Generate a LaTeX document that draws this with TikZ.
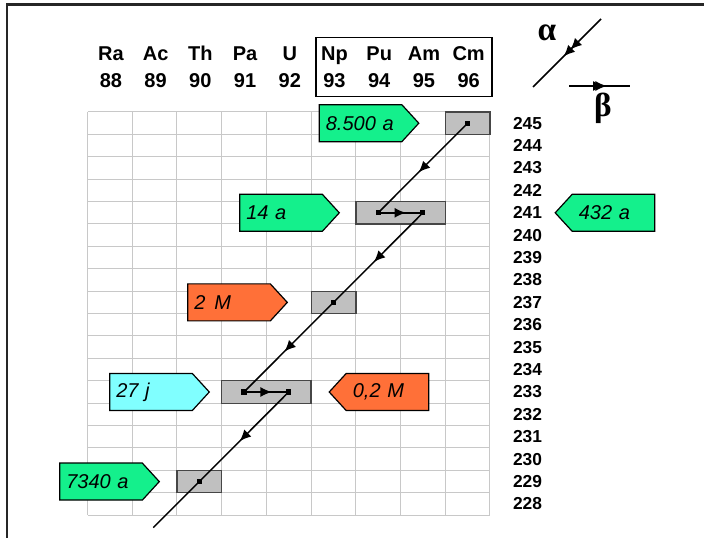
\documentclass[tikz,border=0pt]{standalone}
\usepackage{fontspec}
\setmainfont{Liberation Sans}
\newfontfamily\greekfont{Liberation Serif}
\usetikzlibrary{positioning,arrows.meta,shapes.symbols,decorations.markings}
\definecolor{gridGray}{RGB}{200,200,200}
\definecolor{boxGray}{RGB}{192,192,192}
\definecolor{boxBorder}{RGB}{70,70,70}
\definecolor{tagGreen}{RGB}{20,240,140}
\definecolor{tagOrange}{RGB}{255,112,56}
\definecolor{tagCyan}{RGB}{128,255,255}
\tikzset{
  gridline/.style={draw=gridGray, line width=0.75pt},
  elem/.style={font=\fontsize{15}{17}\selectfont\bfseries, inner sep=0pt, anchor=base},
  massno/.style={font=\fontsize{13}{14}\selectfont\bfseries, inner sep=0pt},
  nucbox/.style={draw=boxBorder, fill=boxGray, line width=1pt,
    minimum height=16.8pt, minimum width=33.5pt, inner sep=0pt},
  nuc/.style={fill=black, inner sep=0pt, minimum size=3.8pt},
  chain/.style={line width=1.1pt},
  alpha decay/.style={chain, postaction={decorate}, decoration={markings,
    mark=at position 0.55 with {\arrow{Latex[length=8.5pt,width=7.5pt]}}}},
  beta decay/.style={chain, postaction={decorate}, decoration={markings,
    mark=at position 0.62 with {\arrow{Latex[length=8.5pt,width=7.5pt]}}}},
  tagbase/.style={shape=signal, signal pointer angle=95, draw, line width=0.9pt,
    minimum height=27.75pt, text width=52pt, align=left, inner xsep=5pt,
    font=\fontsize{15}{17}\selectfont\itshape},
  tagE/.style={tagbase, signal to=east},
  tagW/.style={tagbase, signal to=west},
  greek/.style={font=\greekfont\fontsize{25}{27}\selectfont\bfseries, inner sep=0pt}
}
\begin{document}
\begin{tikzpicture}[x=0.75pt, y=-0.75pt]
  \useasboundingbox (0,0) rectangle (704,538);
  % frame
  \draw[line width=1.6pt, draw=black!85] (7,538) -- (7,4.5) -- (704,4.5);

  % chart grid
  \foreach \i in {0,...,9}
    \draw[gridline] ({87.5+\i*44.72},112) -- ({87.5+\i*44.72},515.2);
  \foreach \j in {0,...,18}
    \draw[gridline] (87.5,{112+\j*22.4}) -- (490,{112+\j*22.4});

  % element header
  \foreach \sym/\z [count=\k from 0] in {Ra/88,Ac/89,Th/90,Pa/91,U/92,Np/93,Pu/94,Am/95,Cm/96} {
    \node[elem] (sym\z) at ({110.9+\k*44.72},60.5) {\sym};
    \node[elem] (z\z) at ({110.9+\k*44.72},87.5) {\z};
  }
  \node[draw, line width=1pt, minimum width=132pt, minimum height=44.25pt] (hdrbox) at (404,67) {};

  % mass numbers
  \foreach \a in {228,...,245}
    \node[massno] (m\a) at (527.5,{112+(245.5-\a)*22.4}) {\a};

  % nuclide boxes
  \node[nucbox] (b245) at (467.6,123.2) {};
  \node[nucbox, minimum width=67pt] (b241) at (400.6,212.8) {};
  \node[nucbox] (b237) at (333.5,302.4) {};
  \node[nucbox, minimum width=67pt] (b233) at (266.4,392) {};
  \node[nucbox] (b229) at (199.3,481.6) {};

  % nuclides
  \node[nuc] (cm245) at (467.6,123.2) {};
  \node[nuc] (pu241) at (378.2,212.8) {};
  \node[nuc] (am241) at (422.9,212.8) {};
  \node[nuc] (np237) at (333.5,302.4) {};
  \node[nuc] (pa233) at (244.0,392) {};
  \node[nuc] (u233) at (288.7,392) {};
  \node[nuc] (th229) at (199.3,481.6) {};
  \coordinate (tail) at (153.3,527.6);

  % decay chain
  \draw[alpha decay] (cm245.center) -- (pu241.center);
  \draw[beta decay] (pu241.center) -- (am241.center);
  \draw[alpha decay] (am241.center) -- (np237.center);
  \draw[alpha decay] (np237.center) -- (pa233.center);
  \draw[beta decay] (pa233.center) -- (u233.center);
  \draw[alpha decay] (u233.center) -- (th229.center);
  \draw[chain] (th229.center) -- (tail);

  % half-lives
  \node[tagE, fill=tagGreen] (t245) at (360.5,123.2) {8.500 a};
  \node[tagE, fill=tagGreen] (t241) at (281,212.8) {14 a};
  \node[tagW, fill=tagGreen] (t241am) at (613.5,212.8) {432 a};
  \node[tagE, fill=tagOrange] (t237) at (229,302.4) {2\hspace{0.45em}M};
  \node[tagE, fill=tagCyan] (t233) at (151,392) {27 j};
  \node[tagW, fill=tagOrange] (t233u) at (387.5,392) {0,2 M};
  \node[tagE, fill=tagGreen] (t229) at (101,481.6) {7340 a};

  % legend
  \coordinate (la1) at (601,19);
  \coordinate (la2) at (533,87);
  \draw[alpha decay, decoration={markings, mark=at position 0.45 with {\arrow{Latex[length=8.5pt,width=7.5pt]}}}] (la1) -- (la2);
  \coordinate (lb1) at (569,86);
  \coordinate (lb2) at (630,86);
  \draw[beta decay, decoration={markings, mark=at position 0.58 with {\arrow{Latex[length=8.5pt,width=7.5pt]}}}] (lb1) -- (lb2);
  \node[greek] (lalpha) at (547,33) {α};
  \node[greek] (lbeta) at (603,108) {β};
\end{tikzpicture}
\end{document}
